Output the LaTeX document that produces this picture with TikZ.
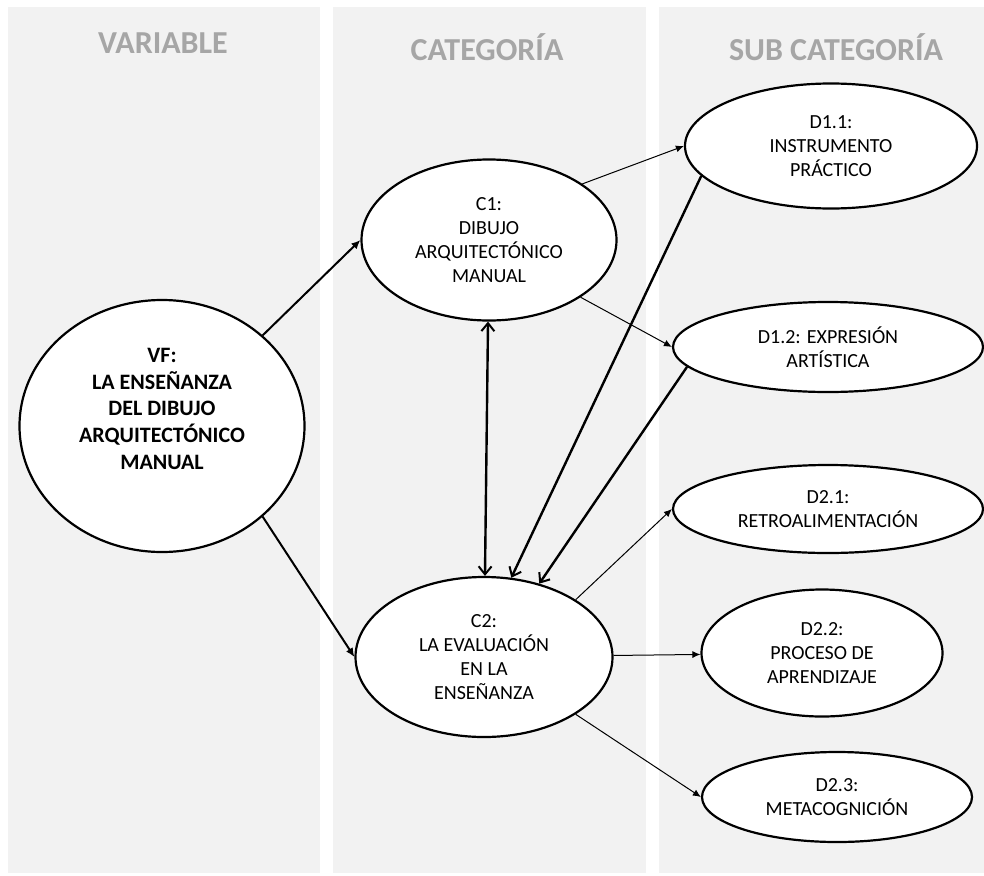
\documentclass[tikz,border=0pt]{standalone}
\usepackage{fontspec}
\setmainfont{Carlito}
\usetikzlibrary{shapes.geometric}
\usetikzlibrary{arrows.meta}
\usepackage{xcolor}
\definecolor{colgray}{RGB}{242,242,242}
\definecolor{headgray}{RGB}{166,166,166}

\tikzset{
  oval/.style={draw, ellipse, line width=2.2pt, fill=white, inner sep=0pt, align=center, font=\fontsize{20}{24}\selectfont},
  head/.style={anchor=base, text=headgray, font=\fontsize{32}{38}\selectfont\bfseries},
  thinarrow/.style={-{Latex[length=8pt,width=7pt]}, line width=1pt},
  midarrow/.style={-{Latex[length=9pt,width=8pt]}, line width=2pt},
  thickarrow/.style={-{Straight Barb[length=8pt,width=13pt,line width=2pt]}, line width=2.4pt},
  dblarrow/.style={{Straight Barb[length=8pt,width=13pt,line width=2pt]}-{Straight Barb[length=8pt,width=13pt,line width=2pt]}, line width=2.4pt}
}

\begin{document}
\begin{tikzpicture}[x=1pt,y=-1pt]
            \useasboundingbox (0,0) rectangle (984,875);
            \fill[colgray] (8,7) rectangle (320,873);
            \fill[colgray] (333,7) rectangle (646,873);
            \fill[colgray] (659,7) rectangle (984,873);

            \node[head] (hvar) at (163,53) {VARIABLE};
            \node[head] (hcat) at (487,60) {CATEGORÍA};
            \node[head] (hsub) at (836,60) {SUB CATEGORÍA};

            \node[oval, minimum width=285pt, minimum height=252pt, font=\fontsize{22}{26.7}\selectfont\bfseries] (VF) at (162,426) {VF:\\LA ENSEÑANZA\\DEL DIBUJO\\ARQUITECTÓNICO\\MANUAL\\\strut};
            \node[oval, minimum width=255pt, minimum height=161pt] (C1) at (489,240) {C1:\\DIBUJO\\ARQUITECTÓNICO\\MANUAL};
            \node[oval, minimum width=257pt, minimum height=160pt] (C2) at (484,657) {C2:\\LA EVALUACIÓN\\EN LA\\ENSEÑANZA};
            \node[oval, minimum width=292pt, minimum height=125pt] (D11) at (831,146) {D1.1:\\INSTRUMENTO\\PRÁCTICO};
            \node[oval, minimum width=310pt, minimum height=90pt] (D12) at (828,347) {D1.2: EXPRESIÓN\\ARTÍSTICA};
            \node[oval, minimum width=310pt, minimum height=88pt] (D21) at (828,509) {D2.1:\\RETROALIMENTACIÓN};
            \node[oval, minimum width=241pt, minimum height=127pt] (D22) at (822,653) {D2.2:\\PROCESO DE\\APRENDIZAJE};
            \node[oval, minimum width=270pt, minimum height=90pt] (D23) at (837,797) {D2.3:\\METACOGNICIÓN};

            \draw[midarrow] (VF.42) -- (C1.west);
            \draw[midarrow] (VF.-42) -- (C2.west);
            \draw[thinarrow] (C1.31) -- (D11.west);
            \draw[thinarrow] (C1.-32) -- (D12.west);
            \draw[dblarrow] (C1) -- (C2);
            \draw[thickarrow] (D11.193) -- (C2.71);
            \draw[thickarrow] (D12.188) -- (C2.53);
            \draw[thinarrow] (C2.32) -- (D21.west);
            \draw[thinarrow] (C2) -- (D22);
            \draw[thinarrow] (C2.-32) -- (D23.west);
        \end{tikzpicture}
\end{document}
